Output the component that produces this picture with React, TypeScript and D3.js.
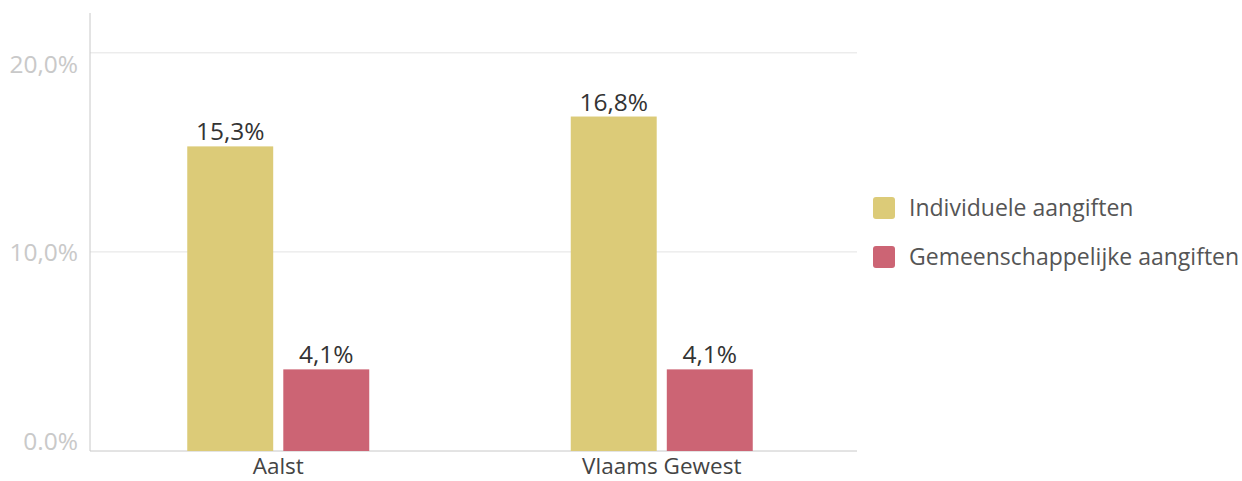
import React from "react";
import * as d3 from "d3";

const categories = ["Aalst", "Vlaams Gewest"];
const seriesNames = ["Individuele aangiften", "Gemeenschappelijke aangiften"];
const individueel = [15.3, 16.8];
const gemeenschappelijk = [4.1, 4.1];
const yTicks = [0, 10, 20];
const yTickLabels = ["0.0%", "10,0%", "20,0%"];
const colors = ["#dccb78", "#cc6474"];

const W = 1242;
const H = 481;
const left = 90;
const right = 857;
const top = 13;
const bottom = 451;

export default function App() {
  const y = d3.scaleLinear().domain([0, 22]).range([bottom, top]);
  const yLabel = d3.scaleLinear().domain([0, 20]).range([441, 64]);
  const x0 = d3.scaleBand<string>().domain(categories).range([86.5, 853.5]).paddingInner(0).paddingOuter(0);
  const x1 = d3
    .scaleBand<string>()
    .domain(seriesNames)
    .range([0, 182])
    .paddingInner(0.105);
  const values = [individueel, gemeenschappelijk];
  const fmt = (v: number) => d3.format(".1f")(v).replace(".", ",") + "%";

  return (
    <svg width={W} height={H} style={{ position: "absolute", left: 0, top: 0, fontFamily: "'Open Sans', sans-serif" }}>
      {yTicks.filter((t) => t > 0).map((t) => (
        <line key={t} x1={left} x2={right} y1={y(t)} y2={y(t)} stroke="#e3e3e3" strokeWidth={1} />
      ))}
      <line x1={left} x2={left} y1={top} y2={bottom} stroke="#c8c8c8" />
      <line x1={left} x2={right} y1={bottom} y2={bottom} stroke="#c8c8c8" />
      {yTicks.map((t, i) => (
        <text key={t} x={78} y={yLabel(t)} dy="0.35em" textAnchor="end" fill="#c9c9c9" fontSize={24.5}>
          {yTickLabels[i]}
        </text>
      ))}
      {categories.map((c, ci) => {
        const gx = x0(c)! + (x0.bandwidth() - 182) / 2;
        return (
          <g key={c}>
            {seriesNames.map((s, si) => {
              const v = values[si][ci];
              const bx = gx + x1(s)!;
              return (
                <g key={s}>
                  <rect x={bx} y={y(v)} width={x1.bandwidth()} height={bottom - y(v)} fill={colors[si]} />
                  <text x={bx + x1.bandwidth() / 2} y={y(v) - 6} textAnchor="middle" fill="#333" fontSize={24.5}>
                    {fmt(v)}
                  </text>
                </g>
              );
            })}
            <text x={x0(c)! + x0.bandwidth() / 2} y={474} textAnchor="middle" fill="#444" fontSize={22.5}>
              {c}
            </text>
          </g>
        );
      })}
      {seriesNames.map((s, i) => (
        <g key={s} transform={`translate(873, ${197 + i * 49})`}>
          <rect width={22} height={22} rx={3} fill={colors[i]} />
          <text x={36} y={11} dy="0.35em" fill="#555" fontSize={23}>
            {s}
          </text>
        </g>
      ))}
    </svg>
  );
}
